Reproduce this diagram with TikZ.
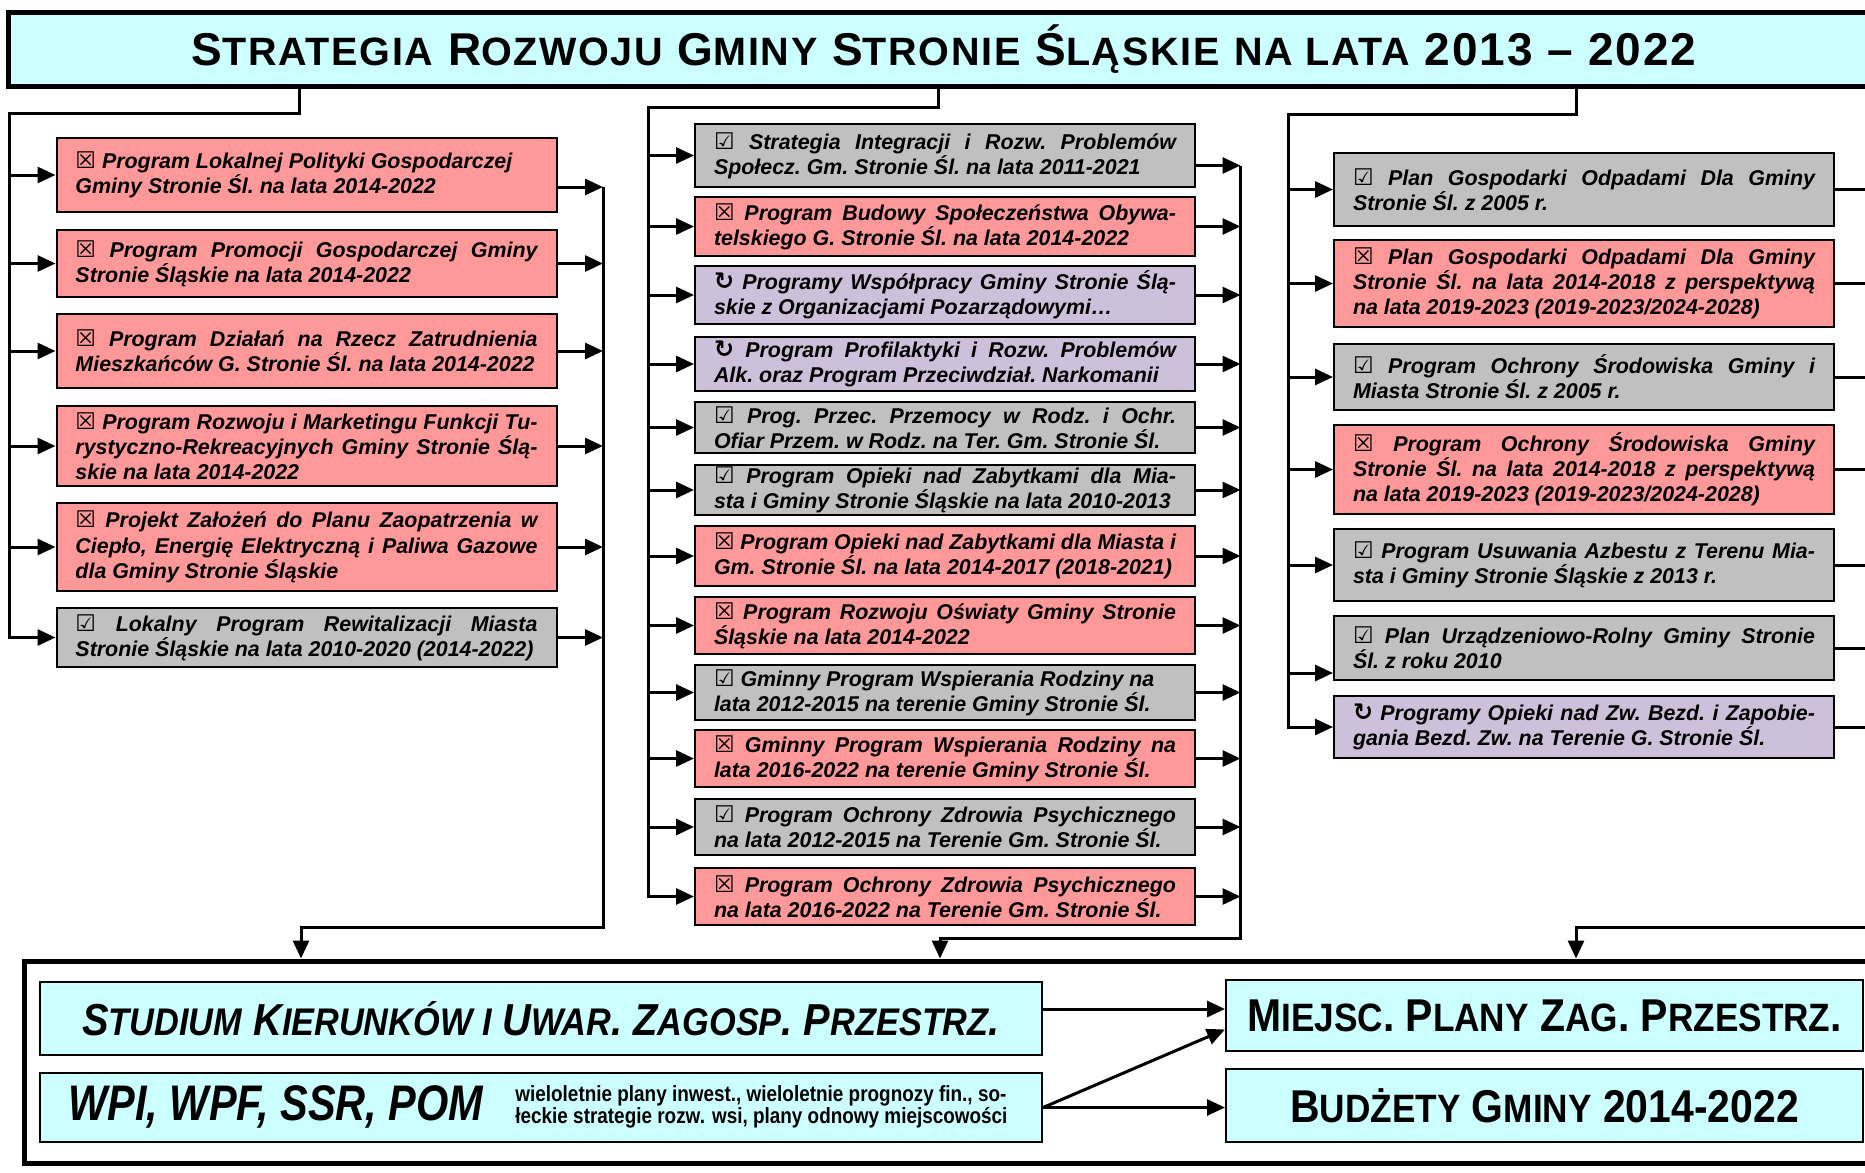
\documentclass[tikz,border=0pt]{standalone}
\usepackage{fontspec}
\setmainfont{Liberation Sans}
\newfontfamily\symfont{DejaVu Sans}
\newfontfamily\narrowfont[FakeStretch=0.83]{Liberation Sans}
\newfontfamily\notefont[FakeStretch=0.86]{Liberation Sans}
\newfontfamily\planfont[FakeStretch=0.89]{Liberation Sans}
\newfontfamily\titlefont[LetterSpace=4.2]{Liberation Sans}
\usepackage{xcolor}
\definecolor{cPink}{HTML}{FF9999}
\definecolor{cGray}{HTML}{C0C0C0}
\definecolor{cLilac}{HTML}{CCC0DA}
\definecolor{cCyan}{HTML}{CCFFFF}
\usepackage{tikz}
\usetikzlibrary{arrows.meta,calc}
\makeatletter
\newcommand{\sCap}[1]{{\fontsize{\strip@pt\dimexpr\f@size pt*86/100\relax}{\z@}\selectfont#1}}
\makeatother
\newcommand{\progfont}{\bfseries\itshape\fontsize{10.7}{12.6}\selectfont\frenchspacing
  \hyphenpenalty=10000\exhyphenpenalty=10000}
\newcommand{\chkX}{{\symfont\mdseries\upshape\fontsize{11.5}{10}\selectfont ☒}}
\newcommand{\chkV}{{\symfont\mdseries\upshape\fontsize{11.5}{10}\selectfont ☑}}
\newcommand{\chkC}{{\symfont\bfseries\upshape\fontsize{12}{10}\selectfont ↻}}
\tikzset{
  title-box/.style={draw=black,line width=2.5pt,fill=cCyan,minimum width=936pt,
    minimum height=37pt,inner sep=0pt},
  prog-box/.style={draw=black,line width=1pt,text width=231pt,inner xsep=9.5pt,
    inner ysep=1pt,align=justify,font=\progfont},
  prog-new/.style={prog-box,fill=cPink},
  prog-old/.style={prog-box,fill=cGray},
  prog-cyc/.style={prog-box,fill=cLilac},
  plan-box/.style={draw=black,line width=1pt,fill=cCyan,inner sep=0pt},
  frame-box/.style={draw=black,line width=2.5pt,inner sep=0pt},
  arrow/.style={-{Triangle[length=9pt,width=8pt]},line width=1.5pt},
  bus/.style={line width=1.5pt,line cap=rect},
}
\begin{document}
\begin{tikzpicture}[x=0.5pt,y=-0.5pt]
  \path[use as bounding box] (0,0) rectangle (1865,1173);
  \clip (0,0) rectangle (1865,1173);

  \node[title-box] (title) at (944,49) {\titlefont\bfseries\fontsize{23}{23}\selectfont
    S\sCap{TRATEGIA} R\sCap{OZWOJU} G\sCap{MINY} S\sCap{TRONIE} Ś\sCap{LĄSKIE} \sCap{NA LATA} 2013 – 2022};

  % left column
  \node[prog-new,minimum height=37pt]   (L1) at (306.5,175)   {\chkX{} Program Lokalnej Polityki Gospodarczej\\Gminy Stronie Śl. na lata 2014-2022};
  \node[prog-new,minimum height=33.5pt] (L2) at (306.5,263.5) {\chkX{} Program Promocji Gospodarczej Gminy\linebreak Stronie Śląskie na lata 2014-2022};
  \node[prog-new,minimum height=37pt]   (L3) at (306.5,351)   {\chkX{} Program Działań na Rzecz Zatrudnienia\linebreak Mieszkańców G. Stronie Śl. na lata 2014-2022};
  \node[prog-new,minimum height=40pt]   (L4) at (306.5,446)   {\chkX{} Program Rozwoju i Marketingu Funkcji Tu-\linebreak rystyczno-Rekreacyjnych Gminy Stronie Ślą-\linebreak skie na lata 2014-2022};
  \node[prog-new,minimum height=44pt]   (L5) at (306.5,547)   {\chkX{} Projekt Założeń do Planu Zaopatrzenia w\linebreak Ciepło, Energię Elektryczną i Paliwa Gazowe\linebreak dla Gminy Stronie Śląskie};
  \node[prog-old,minimum height=29.5pt] (L6) at (306.5,637.5) {\chkV{} Lokalny Program Rewitalizacji Miasta\linebreak Stronie Śląskie na lata 2010-2020 (2014-2022)};

  % middle column
  \node[prog-old,minimum height=31.5pt] (M1)  at (945,155.5) {\chkV{} Strategia Integracji i Rozw. Problemów\linebreak Społecz. Gm. Stronie Śl. na lata 2011-2021};
  \node[prog-new,minimum height=29.5pt] (M2)  at (945,226.5) {\chkX{} Program Budowy Społeczeństwa Obywa-\linebreak telskiego G. Stronie Śl. na lata 2014-2022};
  \node[prog-cyc,minimum height=29pt]   (M3)  at (945,295)   {\chkC{} Programy Współpracy Gminy Stronie Ślą-\linebreak skie z Organizacjami Pozarządowymi…};
  \node[prog-cyc,minimum height=27pt]   (M4)  at (945,364)   {\chkC{} Program Profilaktyki i Rozw. Problemów\linebreak Alk. oraz Program Przeciwdział. Narkomanii};
  \node[prog-old,minimum height=25.5pt] (M5)  at (945,427.5) {\chkV{} Prog. Przec. Przemocy w Rodz. i Ochr.\linebreak Ofiar Przem. w Rodz. na Ter. Gm. Stronie Śl.};
  \node[prog-old,minimum height=25pt]   (M6)  at (945,490)   {\chkV{} Program Opieki nad Zabytkami dla Mia-\linebreak sta i Gminy Stronie Śląskie na lata 2010-2013};
  \node[prog-new,minimum height=30pt]   (M7)  at (945,556)   {\chkX{} Program Opieki nad Zabytkami dla Miasta i\linebreak Gm. Stronie Śl. na lata 2014-2017 (2018-2021)};
  \node[prog-new,minimum height=28.5pt] (M8)  at (945,625.5) {\chkX{} Program Rozwoju Oświaty Gminy Stronie\linebreak Śląskie na lata 2014-2022};
  \node[prog-old,minimum height=27.5pt] (M9)  at (945,692.5) {\chkV{} Gminny Program Wspierania Rodziny na\\lata 2012-2015 na terenie Gminy Stronie Śl.};
  \node[prog-new,minimum height=28.5pt] (M10) at (945,758.5) {\chkX{} Gminny Program Wspierania Rodziny na\linebreak lata 2016-2022 na terenie Gminy Stronie Śl.};
  \node[prog-old,minimum height=28pt]   (M11) at (945,827)   {\chkV{} Program Ochrony Zdrowia Psychicznego\linebreak na lata 2012-2015 na Terenie Gm. Stronie Śl.};
  \node[prog-new,minimum height=28.5pt] (M12) at (945,896.5) {\chkX{} Program Ochrony Zdrowia Psychicznego\linebreak na lata 2016-2022 na Terenie Gm. Stronie Śl.};

  % right column
  \node[prog-old,minimum height=36.5pt] (R1) at (1584,189.5) {\chkV{} Plan Gospodarki Odpadami Dla Gminy\linebreak Stronie Śl. z 2005 r.};
  \node[prog-new,minimum height=43.5pt] (R2) at (1584,283.5) {\chkX{} Plan Gospodarki Odpadami Dla Gminy\linebreak Stronie Śl. na lata 2014-2018 z perspektywą\linebreak na lata 2019-2023 (2019-2023/2024-2028)};
  \node[prog-old,minimum height=33pt]   (R3) at (1584,377)   {\chkV{} Program Ochrony Środowiska Gminy i\linebreak Miasta Stronie Śl. z 2005 r.};
  \node[prog-new,minimum height=44.5pt] (R4) at (1584,469.5) {\chkX{} Program Ochrony Środowiska Gminy\linebreak Stronie Śl. na lata 2014-2018 z perspektywą\linebreak na lata 2019-2023 (2019-2023/2024-2028)};
  \node[prog-old,minimum height=36pt]   (R5) at (1584,565)   {\chkV{} Program Usuwania Azbestu z Terenu Mia-\linebreak sta i Gminy Stronie Śląskie z 2013 r.};
  \node[prog-old,minimum height=32pt]   (R6) at (1584,648)   {\chkV{} Plan Urządzeniowo-Rolny Gminy Stronie\linebreak Śl. z roku 2010};
  \node[prog-cyc,minimum height=31pt]   (R7) at (1584,727)   {\chkC{} Programy Opieki nad Zw. Bezd. i Zapobie-\linebreak gania Bezd. Zw. na Terenie G. Stronie Śl.};

  % planning frame
  \node[frame-box,minimum width=938pt,minimum height=101pt] (frame) at (962,1062) {};
  \node[plan-box,minimum width=501pt,minimum height=36.5pt] (studium) at (541,1018.5)
    {\planfont\bfseries\itshape\fontsize{22.4}{22.4}\selectfont
     S\sCap{TUDIUM} K\sCap{IERUNKÓW I} U\sCap{WAR}. Z\sCap{AGOSP}. P\sCap{RZESTRZ}.};
  \node[plan-box,minimum width=501pt,minimum height=34.5pt] (wpi) at (541,1107.5) {};
  \node[anchor=west,inner sep=0pt,font=\narrowfont\bfseries\itshape\fontsize{25}{25}\selectfont]
    (wpiName) at (68,1107) {WPI, WPF, SSR, POM};
  \node[anchor=west,inner sep=0pt,align=left,font=\notefont\bfseries\fontsize{11}{11.3}\selectfont]
    (wpiNote) at (515,1107) {wieloletnie plany inwest., wieloletnie prognozy fin., so-\\łeckie strategie rozw. wsi, plany odnowy miejscowości};
  \node[plan-box,minimum width=318.5pt,minimum height=35.5pt] (miejsc) at (1544.5,1015.5)
    {\planfont\bfseries\fontsize{23}{23}\selectfont M\sCap{IEJSC}. P\sCap{LANY} Z\sCap{AG}. P\sCap{RZESTRZ}.};
  \node[plan-box,minimum width=318.5pt,minimum height=36.5pt] (budzet) at (1544.5,1105.5)
    {\planfont\bfseries\fontsize{23}{23}\selectfont B\sCap{UDŻETY} G\sCap{MINY} 2014-2022};

  % feeds from the title
  \coordinate (tapL) at (299,113);
  \coordinate (tapM) at (938,107);
  \coordinate (tapR) at (1576,114);
  \coordinate (busL) at (9.5,113);
  \coordinate (busM) at (648,107);
  \coordinate (busR) at (1288,114);
  \coordinate (R6in) at ([yshift=-12.5pt]R6.west);
  \draw[bus] (title.south -| tapL) -- (tapL) -- (busL) -- (busL |- L6.west);
  \draw[bus] (title.south -| tapM) -- (tapM) -- (busM) -- (busM |- M12.west);
  \draw[bus] (title.south -| tapR) -- (tapR) -- (busR) -- (busR |- R7.west);
  \foreach \i in {1,...,6} \draw[arrow] (busL |- L\i.west) -- (L\i.west);
  \foreach \i in {1,...,12} \draw[arrow] (busM |- M\i.west) -- (M\i.west);
  \foreach \i in {1,2,3,4,5,7} \draw[arrow] (busR |- R\i.west) -- (R\i.west);
  \draw[arrow] (busR |- R6in) -- (R6in);

  % collectors down to the frame
  \coordinate (outL) at (603,927);
  \coordinate (outM) at (1240.5,938);
  \coordinate (outR) at (1885,927);
  \coordinate (dropL) at (301,961);
  \coordinate (dropM) at (940,961);
  \coordinate (dropR) at (1576,961);
  \coordinate (L1out) at ([yshift=-6pt]L1.east);
  \coordinate (M1out) at ([yshift=-5pt]M1.east);
  \draw[arrow] (L1out) -- (L1out -| outL);
  \foreach \i in {2,...,6} \draw[arrow] (L\i.east) -- (L\i.east -| outL);
  \draw[arrow] (M1out) -- (M1out -| outM);
  \foreach \i in {2,...,12} \draw[arrow] (M\i.east) -- (M\i.east -| outM);
  \foreach \i in {1,...,7} \draw[arrow] (R\i.east) -- (R\i.east -| outR);
  \draw[arrow] (L1out -| outL) -- (outL) -| (frame.north -| dropL);
  \draw[arrow] (M1out -| outM) -- (outM) -| (frame.north -| dropM);
  \draw[arrow] (R1.east -| outR) -- (outR) -| (frame.north -| dropR);

  % planning links
  \coordinate (S1out) at ([yshift=4.75pt]studium.east);
  \coordinate (B1in) at ([yshift=-7pt]miejsc.west);
  \draw[arrow] (S1out) -- (S1out -| miejsc.west);
  \draw[arrow] (wpi.east) -- (wpi.east -| budzet.west);
  \draw[arrow] (wpi.east) -- (B1in);
\end{tikzpicture}
\end{document}
